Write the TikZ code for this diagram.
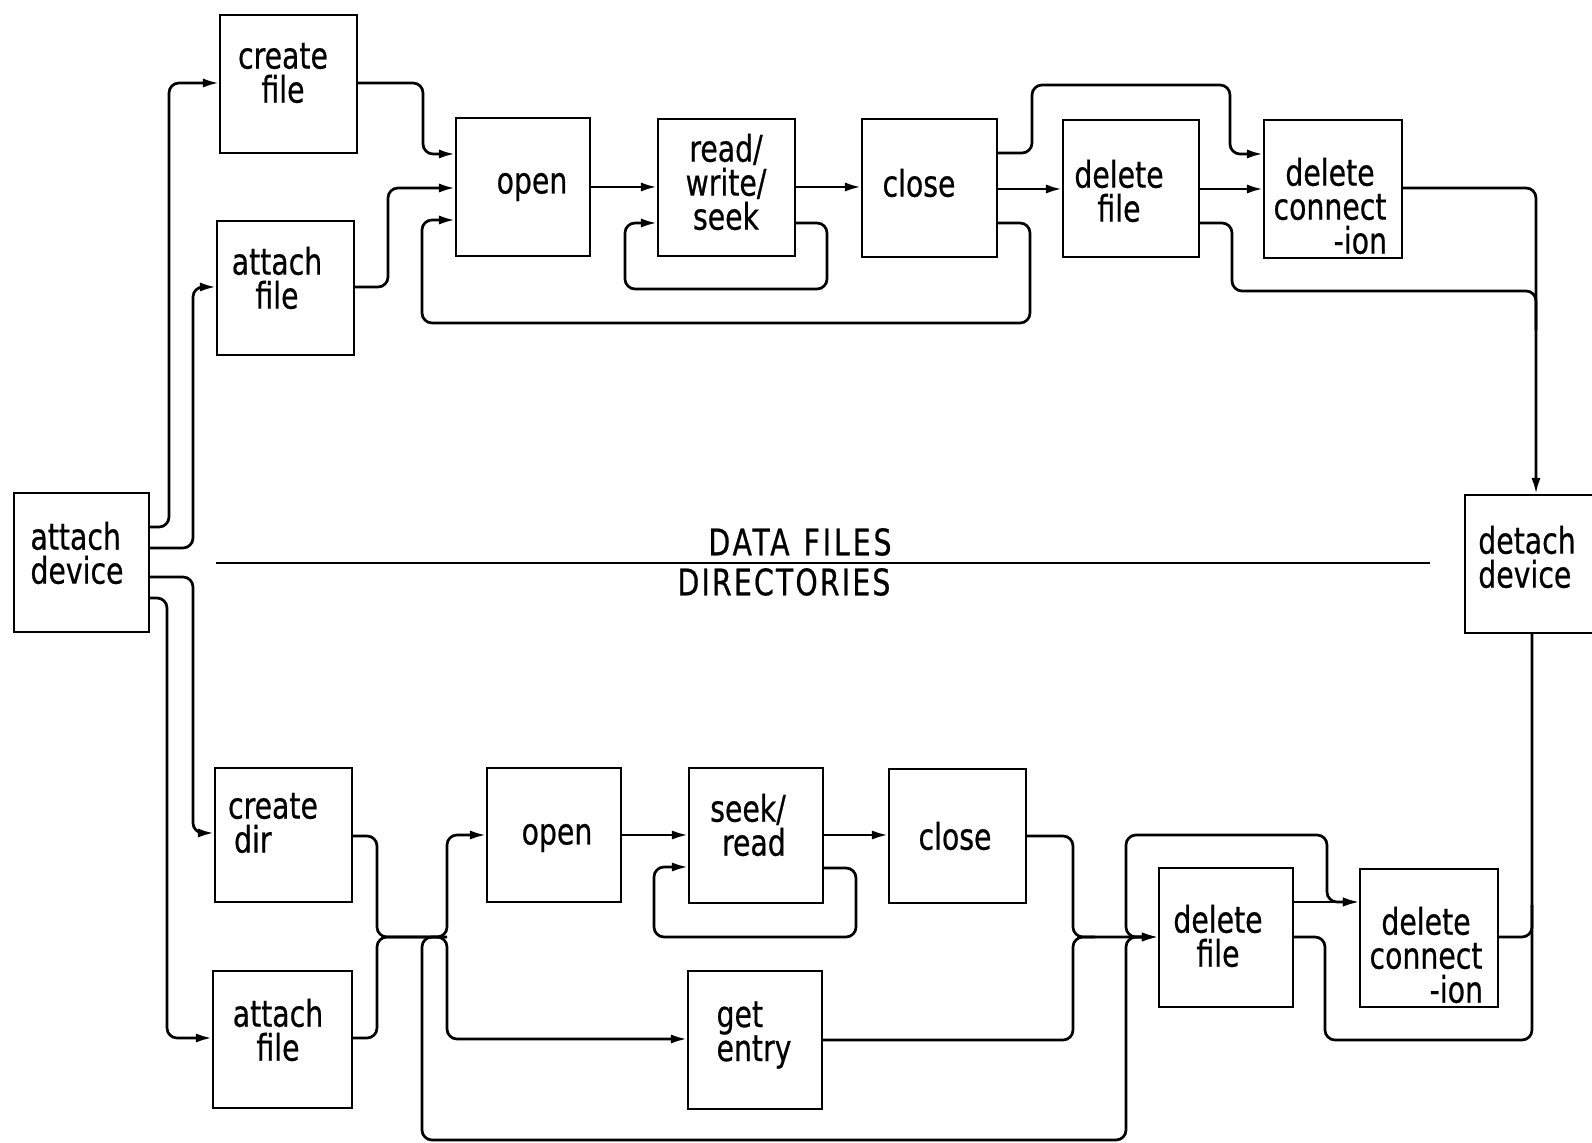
\documentclass[tikz,border=0pt]{standalone}
\usepackage{fontspec}
\newfontfamily\lblfont{DejaVu Sans Condensed}[FakeStretch=0.86,FakeBold=0.6]
\usetikzlibrary{arrows.meta,fit}
\tikzset{
  blk/.style={draw, line width=1.1pt, inner sep=0pt},
  lbl/.style={inner sep=0pt, font=\lblfont\fontsize{18.3}{17}\selectfont, align=center},
  con/.style={line width=1.35pt, rounded corners=5pt},
  arr/.style={con, -{Latex[length=8pt,width=4.6pt]}},
}
\begin{document}
\begin{tikzpicture}[x=0.5pt,y=-0.5pt]
\fill[white] (0,0) rectangle (1592,1143);
\useasboundingbox (0,0) rectangle (1592,1143);

% ---------- boxes (data files) ----------
\node[blk, fit={(14,493) (149,632)}] (ad) {};
\node[blk, fit={(220,15) (357,153)}] (cf) {};
\node[blk, fit={(217,221) (354,355)}] (af) {};
\node[blk, fit={(456,118) (590,256)}] (op) {};
\node[blk, fit={(658,119) (795,256)}] (rws) {};
\node[blk, fit={(862,119) (997,257)}] (cl) {};
\node[blk, fit={(1063,120) (1199,257)}] (df) {};
\node[blk, fit={(1264,120) (1402,258)}] (dc) {};
\node[blk, fit={(1465,495) (1600,633)}] (dd) {};
% ---------- boxes (directories) ----------
\node[blk, fit={(215,768) (352,902)}] (cd) {};
\node[blk, fit={(213,971) (352,1108)}] (af2) {};
\node[blk, fit={(487,768) (621,902)}] (op2) {};
\node[blk, fit={(689,768) (823,903)}] (sr) {};
\node[blk, fit={(889,769) (1026,903)}] (cl2) {};
\node[blk, fit={(688,971) (822,1109)}] (ge) {};
\node[blk, fit={(1159,868) (1293,1007)}] (df2) {};
\node[blk, fit={(1360,869) (1498,1007)}] (dc2) {};

% ---------- texts ----------
\node[lbl, align=left] (ad-t) at (77,553) {attach\\device};
\node[lbl] (cf-t) at (283,73) {create\\file};
\node[lbl] (af-t) at (277,278) {attach\\file};
\node[lbl] (op-t) at (532,187) {open};
\node[lbl] (rws-t) at (726,182) {read/\\write/\\seek};
\node[lbl] (cl-t) at (919,183) {close};
\node[lbl] (df-t) at (1119,191) {delete\\file};
\node[lbl, text width=57pt] (dc-t) at (1330,206) {delete\\connect\\\hfill-ion};
\node[lbl, align=left] (dd-t) at (1527,557) {detach\\device};
\node[lbl, align=left] (cd-t) at (273,823) {create\\\hspace*{3pt}dir};
\node[lbl] (af2-t) at (278,1030) {attach\\file};
\node[lbl] (op2-t) at (557,838) {open};
\node[lbl, align=right] (sr-t) at (748,825) {seek/\\read};
\node[lbl] (cl2-t) at (955,836) {close};
\node[lbl, align=left] (ge-t) at (754,1035) {get\\entry};
\node[lbl] (df2-t) at (1218,936) {delete\\file};
\node[lbl, text width=57pt] (dc2-t) at (1426,955) {delete\\connect\\\hfill-ion};

% ---------- separator ----------
\draw[line width=0.9pt] (216,563) -- (1430,563);
\node[lbl, font=\lblfont\fontsize{18.3}{17}\selectfont\addfontfeature{LetterSpace=8}] (dfl) at (800,542) {DATA\hspace{7pt}FILES};
\node[lbl, font=\lblfont\fontsize{18.3}{17}\selectfont\addfontfeature{LetterSpace=6}] (dir) at (784,582) {DIRECTORIES};

% ---------- connectors: data files ----------
\draw[arr] (ad.east |- 0,527) -- (169,527) -- (169,83) -- (cf.west |- 0,83);
\draw[arr] (ad.east |- 0,548) -- (193,548) -- (193,287) -- (af.west |- 0,287);
\draw[arr] (cf.east |- 0,83) -- (423,83) -- (423,154) -- (op.west |- 0,154);
\draw[arr] (af.east |- 0,287) -- (388,287) -- (388,188) -- (op.west |- 0,188);
\draw[arr] (op.east |- 0,187) -- (rws.west |- 0,187);
\draw[arr] (rws.east |- 0,223) -- (827,223) -- (827,289) -- (625,289) -- (625,223) -- (rws.west |- 0,223);
\draw[arr] (rws.east |- 0,187) -- (cl.west |- 0,187);
\draw[arr] (cl.east |- 0,223) -- (1030,223) -- (1030,323) -- (422,323) -- (422,220) -- (op.west |- 0,220);
\draw[arr] (cl.east |- 0,189) -- (df.west |- 0,189);
\draw[arr] (cl.east |- 0,153) -- (1032,153) -- (1032,85) -- (1230,85) -- (1230,154) -- (dc.west |- 0,154);
\draw[arr] (df.east |- 0,189) -- (dc.west |- 0,189);
\draw[arr] (dc.east |- 0,188) -- (1536,188) -- (dd.north -| 1536,0);
\draw[con] (df.east |- 0,223) -- (1232,223) -- (1232,291) -- (1536,291) -- (1536,330);

% ---------- connectors: directories ----------
\draw[arr] (ad.east |- 0,577) -- (193,577) -- (193,833) -- (cd.west |- 0,833);
\draw[arr] (ad.east |- 0,598) -- (167,598) -- (167,1038) -- (af2.west |- 0,1038);
\draw[arr] (cd.east |- 0,836) -- (377,836) -- (377,937) -- (447,937) -- (447,835) -- (op2.west |- 0,835);
\draw[con] (af2.east |- 0,1038) -- (377,1038) -- (377,937) -- (400,937);
\draw[arr] (400,937) -- (447,937) -- (447,1039) -- (ge.west |- 0,1039);
\draw[arr] (447,937) -- (422,937) -- (422,1140) -- (1126,1140) -- (1126,937) -- (df2.west |- 0,937);
\draw[arr] (op2.east |- 0,835) -- (sr.west |- 0,835);
\draw[arr] (sr.east |- 0,868) -- (856,868) -- (856,937) -- (654,937) -- (654,867) -- (sr.west |- 0,867);
\draw[arr] (sr.east |- 0,835) -- (cl2.west |- 0,835);
\draw[arr] (cl2.east |- 0,836) -- (1073,836) -- (1073,937) -- (df2.west |- 0,937);
\draw[con] (ge.east |- 0,1040) -- (1073,1040) -- (1073,937) -- (1095,937);
\draw[arr] (1145,937) -- (1126,937) -- (1126,835) -- (1327,835) -- (1327,902) -- (dc2.west |- 0,902);
\draw[arr] (df2.east |- 0,902) -- (dc2.west |- 0,902);
\draw[con] (df2.east |- 0,937) -- (1325,937) -- (1325,1040) -- (1532,1040) -- (dd.south -| 1532,0);
\draw[con] (dc2.east |- 0,937) -- (1532,937) -- (1532,905);
\end{tikzpicture}
\end{document}
